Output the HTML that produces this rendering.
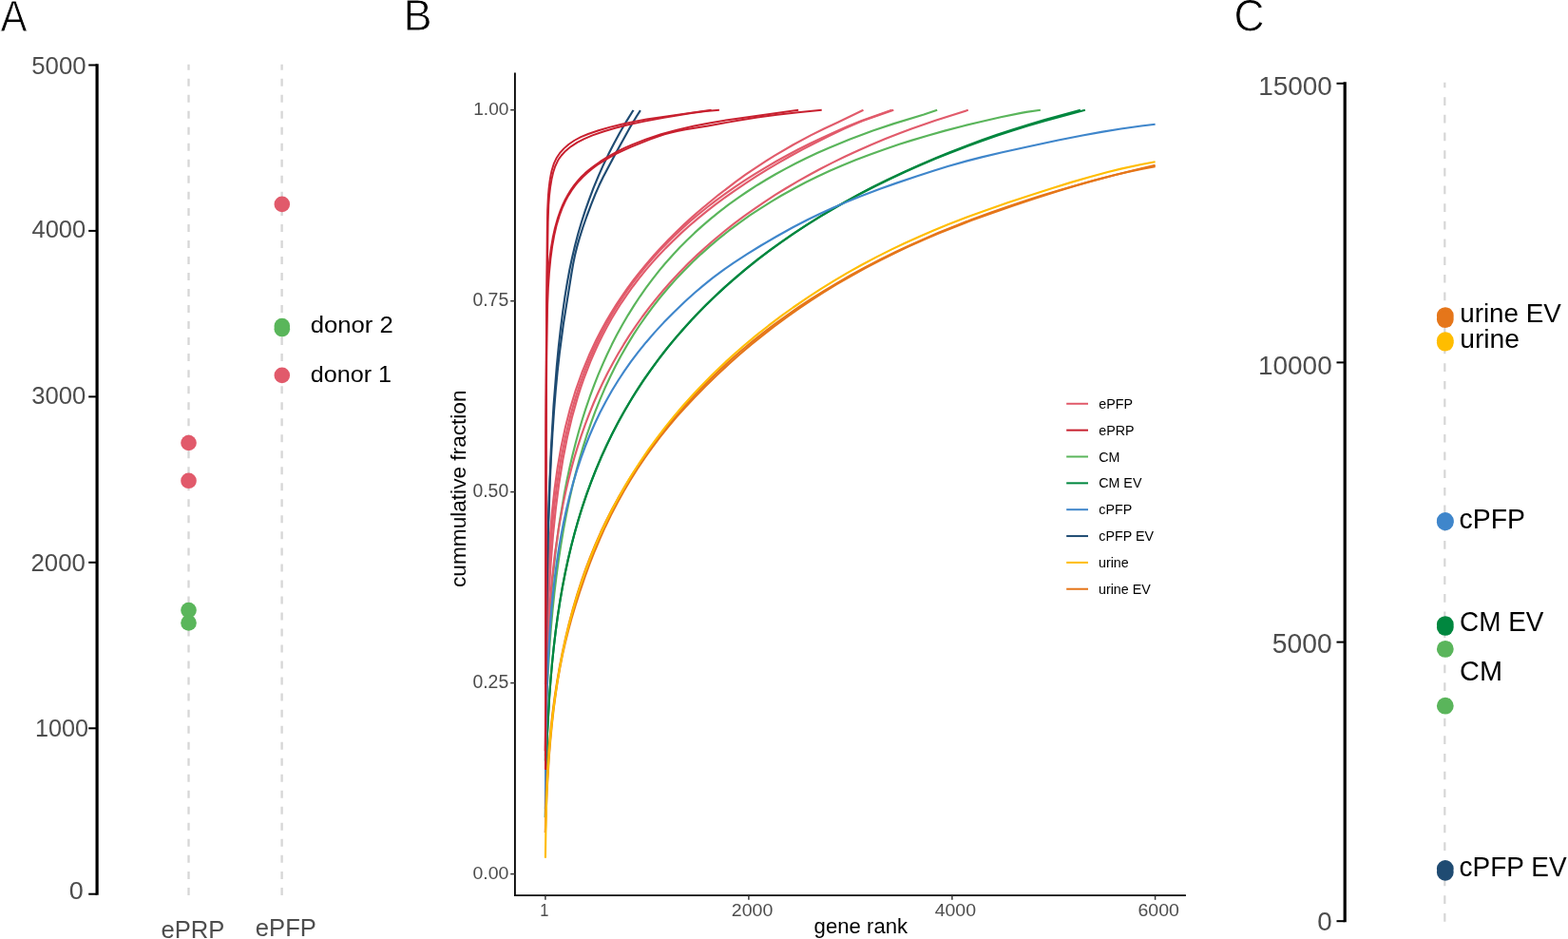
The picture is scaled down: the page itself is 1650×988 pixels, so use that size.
<!DOCTYPE html><html><head><meta charset="utf-8"><title>Figure</title><style>html,body{margin:0;padding:0;background:#fff;overflow:hidden}svg{display:block}text{font-family:"Liberation Sans",Arial,Helvetica,sans-serif}</style></head><body>
<svg width="1650" height="988" viewBox="0 0 1650 988">
<rect width="1650" height="988" fill="#fff"/>
<text stroke="#fff" stroke-width="0.8" transform="translate(0.60,32.60) scale(0.9046,1)" x="-0.09" y="0" font-size="46.51" fill="#000">A</text>
<line x1="198.5" y1="941.9" x2="198.5" y2="67.7" stroke="#D6D6D6" stroke-width="2.3" stroke-dasharray="8 9.024"/>
<line x1="296.6" y1="941.9" x2="296.6" y2="67.7" stroke="#D6D6D6" stroke-width="2.3" stroke-dasharray="8 9.024"/>
<line x1="102.1" y1="67.3" x2="102.1" y2="941.8" stroke="#000" stroke-width="3.2"/>
<line x1="93.2" y1="68.5" x2="102" y2="68.5" stroke="#000" stroke-width="2"/>
<line x1="93.2" y1="242.9" x2="102" y2="242.9" stroke="#000" stroke-width="2"/>
<line x1="93.2" y1="417.4" x2="102" y2="417.4" stroke="#000" stroke-width="2"/>
<line x1="93.2" y1="591.8" x2="102" y2="591.8" stroke="#000" stroke-width="2"/>
<line x1="93.2" y1="766.3" x2="102" y2="766.3" stroke="#000" stroke-width="2"/>
<line x1="93.2" y1="940.7" x2="102" y2="940.7" stroke="#000" stroke-width="2"/>
<text transform="translate(34.20,77.84) scale(0.9829,1)" x="-1.05" y="0" font-size="26.27" fill="#4D4D4D">5000</text>
<text transform="translate(34.10,250.45) scale(1.0078,1)" x="-0.58" y="0" font-size="25.28" fill="#4D4D4D">4000</text>
<text transform="translate(34.10,425.25) scale(0.9981,1)" x="-0.98" y="0" font-size="25.71" fill="#4D4D4D">3000</text>
<text transform="translate(33.80,600.55) scale(1.0038,1)" x="-1.29" y="0" font-size="25.71" fill="#4D4D4D">2000</text>
<text transform="translate(39.00,775.25) scale(0.9793,1)" x="-1.96" y="0" font-size="25.71" fill="#4D4D4D">1000</text>
<text transform="translate(73.90,945.96) scale(1.0794,1)" x="-0.98" y="0" font-size="25.00" fill="#4D4D4D">0</text>
<text transform="translate(170.60,986.90) scale(1.0191,1)" x="-1.07" y="0" font-size="25.15" fill="#4D4D4D">ePRP</text>
<text transform="translate(269.90,985.20) scale(1.0183,1)" x="-1.07" y="0" font-size="25.15" fill="#4D4D4D">ePFP</text>
<text transform="translate(327.80,350.20) scale(1.0510,1)" x="-1.03" y="0" font-size="24.43" fill="#000">donor 2</text>
<text transform="translate(327.80,402.40) scale(1.0606,1)" x="-1.00" y="0" font-size="23.74" fill="#000">donor 1</text>
<circle cx="198.5" cy="466.0" r="8.3" fill="#E15A6B"/>
<circle cx="198.5" cy="505.8" r="8.3" fill="#E15A6B"/>
<circle cx="198.5" cy="642.1" r="8.3" fill="#5AB65B"/>
<circle cx="198.5" cy="655.4" r="8.3" fill="#5AB65B"/>
<circle cx="296.8" cy="214.9" r="8.3" fill="#E15A6B"/>
<circle cx="296.8" cy="394.9" r="8.3" fill="#E15A6B"/>
<circle cx="296.8" cy="343.0" r="8.3" fill="#5AB65B"/>
<circle cx="296.8" cy="346.2" r="8.3" fill="#5AB65B"/>
<text stroke="#fff" stroke-width="0.8" transform="translate(428.30,32.30) scale(0.9756,1)" x="-3.79" y="0" font-size="46.22" fill="#000">B</text>
<g fill="none" stroke-width="2.2" stroke-linejoin="round" stroke-linecap="butt">
<path d="M573.90,801.04 L574.33,754.23 L575.18,715.88 L576.68,677.50 L578.71,643.14 L581.45,609.81 L584.79,578.81 L588.79,549.39 L593.62,520.56 L596.24,507.02 L599.21,493.02 L602.27,479.79 L605.70,466.18 L609.18,453.49 L612.63,441.81 L616.42,429.89 L620.58,417.73 L625.15,405.35 L629.58,394.17 L634.40,382.82 L638.95,372.77 L643.84,362.61 L649.11,352.35 L654.76,342.00 L660.85,331.56 L667.38,321.06 L673.38,312.01 L679.76,302.92 L686.54,293.80 L693.76,284.67 L700.13,277.06 L708.23,267.93 L715.36,260.33 L722.88,252.74 L730.80,245.17 L739.13,237.63 L747.91,230.12 L757.16,222.65 L766.89,215.22 L777.14,207.85 L785.74,201.99 L796.99,194.72 L806.42,188.97 L816.25,183.26 L826.50,177.61 L837.18,172.02 L848.30,166.49 L859.90,161.04 L871.99,155.66 L894.39,146.46 L918.47,137.54 L940.55,130.13 L972.20,120.47 L986.20,115.80" stroke="#5AB55B" stroke-width="2.15"/>
<path d="M573.90,799.96 L574.76,754.31 L576.25,715.06 L578.50,677.55 L580.00,658.43 L581.61,640.84 L583.42,623.67 L585.51,606.20 L587.76,589.64 L590.25,573.23 L592.97,557.13 L595.91,541.49 L599.01,526.48 L602.24,512.24 L605.53,498.90 L609.20,485.20 L613.29,471.15 L617.38,458.22 L621.90,445.05 L626.30,433.13 L631.11,421.05 L636.35,408.81 L642.08,396.43 L647.51,385.49 L653.39,374.46 L659.72,363.35 L666.57,352.15 L672.87,342.50 L679.59,332.80 L686.77,323.05 L694.44,313.27 L702.63,303.46 L711.38,293.62 L719.12,285.41 L728.99,275.55 L737.72,267.33 L746.94,259.12 L756.68,250.91 L766.97,242.73 L777.84,234.58 L789.32,226.48 L798.97,220.04 L811.64,212.06 L822.28,205.74 L836.26,197.95 L848.01,191.80 L860.28,185.74 L873.11,179.79 L886.51,173.95 L900.50,168.23 L915.13,162.63 L930.40,157.16 L946.37,151.80 L958.80,147.86 L976.04,142.70 L994.04,137.66 L1012.85,132.74 L1032.51,127.93 L1053.04,123.28 L1074.49,118.85 L1080.00,117.82 L1094.90,115.80" stroke="#5AB55B" stroke-width="2.15"/>
<path d="M573.90,860.12 L574.54,814.46 L575.93,772.46 L578.07,733.90 L579.46,715.25 L580.97,698.15 L582.67,681.57 L584.65,664.81 L586.77,649.04 L589.15,633.51 L591.75,618.36 L594.56,603.73 L597.54,589.72 L600.95,575.21 L604.50,561.45 L608.13,548.56 L612.20,535.30 L616.74,521.65 L621.29,509.03 L626.31,496.08 L631.87,482.80 L637.31,470.72 L643.25,458.36 L649.75,445.73 L655.93,434.46 L662.62,422.98 L669.85,411.29 L676.52,401.11 L684.88,389.05 L692.59,378.55 L700.83,367.90 L709.65,357.12 L719.08,346.20 L729.16,335.14 L739.94,323.96 L749.49,314.54 L761.68,303.14 L772.48,293.56 L783.91,283.90 L795.99,274.18 L808.77,264.41 L819.51,256.56 L833.64,246.71 L845.53,238.81 L861.15,228.92 L874.30,221.00 L888.04,213.08 L902.41,205.18 L917.45,197.29 L933.16,189.43 L949.60,181.62 L966.79,173.86 L984.77,166.17 L998.79,160.46 L1018.23,152.93 L1033.39,147.36 L1049.06,141.88 L1065.28,136.49 L1082.04,131.21 L1099.38,126.06 L1136.90,115.80" stroke="#00873F" stroke-width="2.15"/>
<path d="M573.90,860.12 L574.54,814.28 L575.93,772.24 L578.07,733.69 L579.46,715.05 L580.97,697.97 L582.77,680.51 L584.77,663.71 L586.92,647.91 L589.32,632.36 L591.95,617.20 L594.79,602.55 L597.80,588.52 L601.25,573.99 L604.85,560.21 L608.91,545.99 L613.06,532.66 L617.71,518.95 L622.36,506.26 L627.50,493.25 L633.19,479.90 L638.74,467.74 L644.82,455.30 L651.47,442.59 L657.79,431.25 L664.63,419.69 L672.03,407.93 L678.84,397.68 L687.39,385.54 L695.28,374.97 L703.71,364.27 L712.72,353.42 L722.36,342.45 L732.67,331.34 L743.69,320.12 L753.46,310.67 L763.79,301.15 L774.72,291.57 L786.27,281.92 L798.49,272.21 L811.41,262.46 L822.28,254.63 L836.56,244.81 L848.58,236.95 L864.38,227.10 L877.67,219.23 L891.57,211.37 L906.11,203.52 L921.31,195.71 L937.20,187.93 L953.83,180.20 L966.79,174.45 L984.77,166.84 L998.79,161.19 L1018.23,153.76 L1033.39,148.26 L1049.06,142.85 L1065.28,137.54 L1082.04,132.33 L1099.38,127.25 L1141.90,115.80" stroke="#00873F" stroke-width="2.15"/>
<path d="M573.90,790.31 L574.11,728.75 L574.43,691.78 L575.08,652.61 L576.04,618.52 L577.32,589.00 L579.03,561.53 L581.07,537.39 L583.63,514.17 L586.82,491.38 L590.56,470.01 L594.96,449.43 L599.99,429.79 L605.91,410.31 L612.41,392.01 L619.78,374.04 L627.50,357.53 L632.39,348.01 L637.74,338.30 L642.90,329.52 L648.48,320.59 L654.50,311.50 L660.17,303.41 L667.14,294.01 L673.70,285.65 L680.72,277.14 L688.23,268.50 L696.28,259.71 L703.62,252.05 L711.40,244.28 L719.64,236.40 L728.38,228.39 L737.65,220.26 L756.10,205.02 L774.67,190.88 L784.65,183.73 L795.13,176.55 L806.13,169.37 L815.32,163.63 L834.81,152.21 L853.14,142.36 L867.03,135.46 L881.60,128.70 L908.50,115.80" stroke="#E15B6B" stroke-width="2.15"/>
<path d="M573.90,790.32 L574.11,739.24 L574.65,691.77 L575.50,653.25 L576.68,620.54 L578.29,590.10 L580.40,561.18 L582.96,534.92 L586.13,509.56 L590.07,484.58 L594.65,461.17 L599.72,439.70 L602.70,428.65 L605.71,418.42 L609.04,408.02 L612.32,398.50 L615.91,388.83 L619.84,379.02 L624.13,369.06 L628.28,360.08 L632.77,350.98 L637.00,342.93 L642.21,333.61 L647.85,324.17 L653.96,314.62 L659.71,306.17 L665.88,297.62 L672.49,288.99 L679.57,280.27 L686.05,272.73 L694.10,263.85 L701.47,256.17 L709.28,248.44 L717.58,240.65 L726.38,232.80 L734.12,226.22 L743.94,218.27 L752.57,211.61 L763.52,203.59 L773.14,196.86 L783.26,190.12 L793.89,183.35 L805.07,176.56 L816.80,169.77 L829.14,162.97 L839.45,157.53 L852.94,150.75 L864.22,145.35 L878.96,138.63 L891.29,133.30 L907.40,126.74 L938.50,115.80" stroke="#E15B6B" stroke-width="2.15"/>
<path d="M573.90,790.30 L574.22,745.86 L574.97,700.18 L576.15,659.46 L577.64,625.03 L579.57,593.03 L582.01,562.48 L584.86,534.89 L588.25,508.71 L592.31,483.46 L596.82,460.58 L601.86,439.30 L607.67,418.66 L610.82,408.73 L614.28,398.71 L621.23,380.66 L625.14,371.52 L629.37,362.29 L633.95,352.99 L638.27,344.78 L643.58,335.31 L648.59,326.96 L653.96,318.54 L659.71,310.05 L665.88,301.49 L672.49,292.86 L679.57,284.14 L686.05,276.61 L692.92,269.02 L700.21,261.37 L707.95,253.66 L716.16,245.89 L724.87,238.04 L734.12,230.14 L743.94,222.16 L752.57,215.46 L763.52,207.35 L773.14,200.54 L785.35,192.30 L796.08,185.37 L807.37,178.39 L819.22,171.36 L831.68,164.28 L844.77,157.16 L858.52,150.00 L872.97,142.82 L888.16,135.64 L900.86,129.95 L907.40,127.15 L940.30,115.80" stroke="#E15B6B" stroke-width="2.15"/>
<path d="M573.90,795.60 L574.22,749.62 L574.97,710.27 L576.25,674.78 L578.18,641.59 L580.70,611.47 L583.90,583.19 L587.81,556.32 L592.43,530.86 L595.17,517.87 L598.06,505.45 L601.04,493.69 L604.40,481.57 L607.81,470.23 L611.59,458.57 L615.80,446.60 L619.98,435.55 L624.59,424.25 L629.06,413.98 L633.93,403.51 L639.23,392.83 L644.99,381.95 L650.45,372.27 L656.33,362.43 L662.66,352.44 L669.48,342.30 L675.73,333.50 L683.55,323.10 L690.72,314.07 L698.37,304.95 L706.51,295.74 L715.19,286.45 L724.43,277.07 L734.28,267.62 L742.97,259.69 L752.14,251.72 L761.80,243.72 L771.99,235.68 L782.73,227.62 L794.06,219.54 L803.55,213.06 L816.00,204.97 L826.45,198.50 L840.14,190.42 L851.62,183.97 L863.60,177.55 L876.10,171.16 L889.14,164.81 L902.73,158.50 L916.92,152.26 L931.71,146.08 L947.15,140.00 L959.16,135.50 L984.35,126.72 L1018.80,115.80" stroke="#E15B6B" stroke-width="2.15"/>
<path d="M573.90,851.03 L574.33,785.53 L575.18,739.50 L576.68,697.33 L578.82,660.39 L580.21,642.60 L581.78,625.78 L583.63,609.08 L585.63,593.58 L587.86,578.49 L590.33,563.90 L593.01,549.90 L596.12,535.46 L599.43,521.74 L603.24,507.65 L607.23,494.40 L611.32,482.09 L615.91,469.52 L620.52,457.99 L625.63,446.26 L631.31,434.33 L637.61,422.22 L643.78,411.29 L650.55,400.22 L657.01,390.40 L664.01,380.46 L671.60,370.39 L679.83,360.19 L688.75,349.86 L698.43,339.37 L708.91,328.70 L720.28,317.80 L730.79,308.30 L740.11,300.35 L749.99,292.43 L760.46,284.61 L771.55,276.87 L785.73,267.60 L800.93,258.25 L817.22,248.72 L834.67,239.02 L850.17,230.99 L863.23,224.68 L876.90,218.48 L891.22,212.38 L906.22,206.34 L925.97,198.85 L942.61,192.88 L964.52,185.40 L982.98,179.45 L997.40,175.06 L1017.41,169.40 L1033.04,165.34 L1054.74,160.20 L1083.31,153.93 L1113.58,147.53 L1139.09,142.47 L1159.00,138.85 L1179.62,135.49 L1200.97,132.50 L1215.61,130.77" stroke="#3F86CB" stroke-width="2.15"/>
<path d="M574.00,720.00 L575.07,632.81 L576.13,576.64 L577.71,522.97 L579.83,473.44 L582.55,426.83 L585.84,385.21 L587.76,365.46 L589.86,346.56 L592.12,328.51 L594.46,312.14 L596.79,297.87 L599.33,284.06 L602.04,271.13 L604.97,258.68 L608.23,246.32 L611.82,234.04 L615.73,221.86 L619.97,209.79 L624.67,197.44 L629.56,185.61 L634.75,173.91 L640.26,162.34 L646.08,150.92 L652.01,140.01 L659.06,127.83 L666.26,116.20 L666.30,115.80" stroke="#1F4B72" stroke-width="2.15"/>
<path d="M574.30,720.00 L575.54,622.59 L576.77,563.33 L578.71,507.01 L579.95,480.92 L581.40,455.68 L582.95,432.92 L584.68,411.43 L586.60,391.21 L588.69,372.26 L592.81,341.45 L601.29,288.24 L603.15,277.64 L605.07,268.33 L607.13,259.90 L609.72,250.74 L613.36,239.27 L617.44,227.50 L622.09,215.05 L626.59,203.91 L630.59,194.83 L634.70,186.25 L647.66,161.72 L662.69,134.49 L669.65,122.72 L673.90,116.10" stroke="#1F4B72" stroke-width="2.15"/>
<path d="M573.95,809.60 L574.61,421.34 L575.05,328.39 L575.76,244.79 L576.12,221.85 L576.89,205.99 L577.57,198.32 L578.44,191.19 L579.49,184.62 L580.65,179.21 L582.74,172.44 L585.45,166.58 L588.99,161.22 L593.28,156.37 L598.60,151.72 L604.48,147.74 L611.27,144.16 L618.90,140.98 L629.86,137.24 L641.45,133.86 L654.18,130.69 L667.53,127.88 L680.41,125.56 L694.42,123.34 L748.60,115.80" stroke="#C8202F" stroke-width="1.95"/>
<path d="M573.95,809.60 L574.31,707.34 L574.62,442.23 L575.07,361.94 L575.81,289.38 L576.66,233.88 L577.29,215.75 L578.04,205.87 L579.07,197.09 L580.43,188.86 L582.03,181.79 L584.24,174.96 L587.02,169.08 L588.74,166.34 L590.66,163.74 L595.05,158.96 L597.91,156.43 L600.95,154.07 L607.43,149.87 L614.80,146.07 L623.49,142.45 L635.50,138.29 L648.16,134.54 L661.99,131.07 L677.00,127.84 L698.60,123.83 L727.39,119.02 L742.66,117.00 L756.90,115.80" stroke="#C8202F" stroke-width="1.95"/>
<path d="M574.00,809.60 L574.50,458.24 L575.01,348.75 L575.44,317.38 L576.03,301.69 L576.95,287.12 L578.22,273.69 L579.80,261.40 L581.68,250.33 L583.95,239.97 L586.62,230.39 L589.66,221.60 L592.08,215.72 L594.80,209.99 L597.83,204.44 L600.87,199.56 L604.21,194.86 L607.85,190.34 L611.79,186.03 L615.58,182.36 L620.02,178.52 L625.60,174.22 L631.36,170.19 L637.78,166.10 L644.37,162.28 L651.10,158.72 L657.95,155.41 L665.45,152.09 L680.14,146.37 L695.63,141.27 L712.44,136.63 L730.60,132.48 L747.77,129.18 L767.37,125.98 L840.20,115.80" stroke="#C8202F" stroke-width="1.95"/>
<path d="M574.00,809.60 L574.29,726.63 L574.56,467.69 L575.22,379.21 L575.71,340.47 L576.16,320.23 L576.87,302.95 L577.91,287.41 L579.38,272.41 L581.15,259.18 L583.28,247.23 L585.76,236.65 L588.69,226.90 L592.05,218.01 L595.00,211.57 L598.06,205.86 L601.48,200.37 L604.94,195.58 L608.73,191.00 L613.27,186.22 L618.14,181.71 L623.27,177.49 L628.61,173.56 L634.62,169.60 L641.33,165.64 L648.21,161.98 L655.76,158.32 L663.99,154.67 L684.02,146.62 L691.89,143.80 L699.27,141.42 L706.15,139.50 L712.54,138.01 L721.34,136.30 L745.01,132.42 L776.83,126.71 L796.92,123.54 L817.68,120.73 L839.68,118.22 L864.70,115.80" stroke="#C8202F" stroke-width="1.95"/>
<path d="M573.90,876.00 L574.22,853.97 L574.76,835.86 L575.50,818.99 L576.57,801.26 L577.96,783.40 L579.57,766.67 L581.42,750.41 L583.63,733.83 L586.04,718.04 L588.87,701.73 L591.93,686.05 L595.36,670.31 L598.85,655.85 L602.90,640.60 L607.23,625.83 L611.75,611.72 L616.40,598.41 L621.06,586.05 L626.24,573.35 L631.98,560.32 L637.61,548.45 L643.78,536.32 L650.55,523.89 L657.01,512.77 L664.01,501.41 L671.60,489.79 L679.83,477.90 L688.75,465.73 L697.00,455.06 L705.83,444.17 L715.30,433.04 L725.44,421.68 L736.32,410.11 L745.97,400.32 L756.20,390.41 L767.04,380.40 L778.52,370.29 L790.68,360.11 L803.57,349.86 L814.42,341.62 L828.72,331.28 L840.76,322.98 L853.38,314.67 L866.59,306.36 L880.42,298.06 L894.91,289.76 L910.08,281.49 L925.97,273.26 L942.61,265.07 L955.60,258.96 L973.65,250.87 L987.73,244.86 L1007.29,236.91 L1022.56,231.01 L1043.77,223.23 L1060.33,217.45 L1077.47,211.74 L1095.21,206.10 L1113.58,200.52 L1132.60,195.02 L1152.29,189.60 L1172.67,184.26 L1193.77,179.01 L1215.61,173.86" stroke="#E5761A" stroke-width="2.15"/>
<path d="M573.90,876.01 L575.50,833.22 L577.75,796.47 L579.25,778.14 L580.91,761.04 L582.76,744.86 L584.83,729.29 L586.92,715.65 L589.22,702.47 L591.72,689.89 L594.62,676.92 L598.00,663.43 L601.59,650.34 L605.72,636.46 L610.04,622.89 L615.43,607.11 L620.52,593.23 L625.63,580.21 L631.31,566.74 L636.87,554.43 L642.98,541.82 L649.67,528.93 L656.05,517.41 L662.97,505.69 L670.48,493.75 L678.61,481.62 L686.13,471.07 L694.18,460.39 L702.82,449.58 L712.07,438.65 L720.28,429.44 L730.79,418.22 L742.04,406.77 L754.11,395.01 L767.04,382.97 L778.52,372.78 L790.68,362.46 L803.57,352.04 L814.42,343.64 L828.72,333.08 L840.76,324.61 L853.38,316.12 L866.59,307.63 L880.42,299.16 L894.91,290.72 L910.08,282.32 L925.97,273.99 L942.61,265.74 L955.60,259.62 L973.65,251.55 L987.73,245.58 L1002.32,239.67 L1022.56,231.86 L1043.77,224.12 L1065.97,216.40 L1089.23,208.68 L1113.58,200.93 L1132.60,195.16 L1152.29,189.55 L1172.67,184.26 L1186.66,180.96 L1200.97,177.90 L1215.61,175.11" stroke="#E5761A" stroke-width="2.15"/>
<path d="M573.90,902.65 L574.54,859.62 L575.18,839.32 L576.04,820.23 L577.11,802.15 L578.50,783.63 L580.10,766.28 L581.88,750.20 L583.98,733.93 L586.33,718.15 L589.05,702.20 L591.93,687.24 L595.11,672.47 L598.56,658.05 L602.24,644.09 L606.47,629.49 L610.89,615.53 L615.91,601.00 L621.06,587.28 L626.24,574.50 L631.98,561.32 L638.35,547.71 L644.59,535.26 L651.44,522.46 L658.95,509.32 L666.12,497.54 L673.88,485.49 L682.31,473.17 L691.44,460.59 L699.87,449.59 L708.91,438.39 L718.60,427.01 L728.99,415.44 L738.21,405.66 L749.99,393.76 L760.46,383.71 L771.55,373.54 L783.30,363.28 L795.75,352.92 L808.93,342.47 L822.90,331.96 L834.67,323.50 L850.17,312.89 L863.23,304.39 L876.90,295.90 L891.22,287.43 L906.22,279.01 L921.93,270.65 L938.38,262.38 L951.22,256.25 L969.06,248.19 L982.98,242.23 L997.40,236.36 L1017.41,228.62 L1038.38,220.95 L1060.33,213.31 L1083.31,205.65 L1107.39,197.94 L1126.19,192.14 L1145.65,186.47 L1165.80,181.05 L1179.62,177.65 L1200.97,172.98 L1215.61,170.22" stroke="#FFBD00" stroke-width="2.15"/>
</g>
<line x1="541.9" y1="76.4" x2="541.9" y2="942.9" stroke="#000" stroke-width="1.8"/>
<line x1="541" y1="942.1" x2="1247.9" y2="942.1" stroke="#000" stroke-width="1.8"/>
<line x1="537.2" y1="115.7" x2="541.9" y2="115.7" stroke="#333" stroke-width="1.5"/>
<line x1="537.2" y1="316.7" x2="541.9" y2="316.7" stroke="#333" stroke-width="1.5"/>
<line x1="537.2" y1="517.6" x2="541.9" y2="517.6" stroke="#333" stroke-width="1.5"/>
<line x1="537.2" y1="718.6" x2="541.9" y2="718.6" stroke="#333" stroke-width="1.5"/>
<line x1="537.2" y1="919.6" x2="541.9" y2="919.6" stroke="#333" stroke-width="1.5"/>
<line x1="573.9" y1="942.1" x2="573.9" y2="946.8" stroke="#333" stroke-width="1.5"/>
<line x1="787.9" y1="942.1" x2="787.9" y2="946.8" stroke="#333" stroke-width="1.5"/>
<line x1="1001.9" y1="942.1" x2="1001.9" y2="946.8" stroke="#333" stroke-width="1.5"/>
<line x1="1215.6" y1="942.1" x2="1215.6" y2="946.8" stroke="#333" stroke-width="1.5"/>
<text transform="translate(499.70,121.12) scale(1.0071,1)" x="-1.44" y="0" font-size="18.93" fill="#4D4D4D">1.00</text>
<text transform="translate(498.20,321.91) scale(1.0030,1)" x="-0.76" y="0" font-size="19.35" fill="#4D4D4D">0.75</text>
<text transform="translate(498.20,522.81) scale(1.0014,1)" x="-0.76" y="0" font-size="19.35" fill="#4D4D4D">0.50</text>
<text transform="translate(498.20,723.81) scale(1.0030,1)" x="-0.76" y="0" font-size="19.35" fill="#4D4D4D">0.25</text>
<text transform="translate(498.20,924.71) scale(1.0143,1)" x="-0.75" y="0" font-size="19.21" fill="#4D4D4D">0.00</text>
<text transform="translate(569.50,963.60) scale(0.8992,1)" x="-1.40" y="0" font-size="18.31" fill="#4D4D4D">1</text>
<text transform="translate(770.80,963.51) scale(1.0191,1)" x="-0.97" y="0" font-size="19.21" fill="#4D4D4D">2000</text>
<text transform="translate(984.10,963.51) scale(1.0159,1)" x="-0.44" y="0" font-size="19.21" fill="#4D4D4D">4000</text>
<text transform="translate(1198.50,963.51) scale(1.0169,1)" x="-0.98" y="0" font-size="19.21" fill="#4D4D4D">6000</text>
<text transform="translate(857.50,981.80) scale(1.0167,1)" x="-0.92" y="0" font-size="21.80" fill="#000">gene rank</text>
<text transform="translate(489.50,617.00) rotate(-90) scale(1.0071,1)" x="-0.96" y="0" font-size="22.49" fill="#000">cummulative fraction</text>
<line x1="1122.2" y1="424.80" x2="1145" y2="424.80" stroke="#E15B6B" stroke-width="2"/>
<text x="1156.29" y="429.90" font-size="14.3" fill="#000">ePFP</text>
<line x1="1122.2" y1="452.65" x2="1145" y2="452.65" stroke="#C8202F" stroke-width="2"/>
<text x="1156.29" y="457.75" font-size="14.3" fill="#000">ePRP</text>
<line x1="1122.2" y1="480.50" x2="1145" y2="480.50" stroke="#5AB55B" stroke-width="2"/>
<text x="1156.17" y="485.60" font-size="14.3" fill="#000">CM</text>
<line x1="1122.2" y1="508.35" x2="1145" y2="508.35" stroke="#00873F" stroke-width="2"/>
<text x="1156.17" y="513.45" font-size="14.3" fill="#000">CM EV</text>
<line x1="1122.2" y1="536.20" x2="1145" y2="536.20" stroke="#3F86CB" stroke-width="2"/>
<text x="1156.29" y="541.30" font-size="14.3" fill="#000">cPFP</text>
<line x1="1122.2" y1="564.05" x2="1145" y2="564.05" stroke="#1F4B72" stroke-width="2"/>
<text x="1156.29" y="569.15" font-size="14.3" fill="#000">cPFP EV</text>
<line x1="1122.2" y1="591.90" x2="1145" y2="591.90" stroke="#FFBD00" stroke-width="2"/>
<text x="1155.97" y="597.00" font-size="14.3" fill="#000">urine</text>
<line x1="1122.2" y1="619.75" x2="1145" y2="619.75" stroke="#E5761A" stroke-width="2"/>
<text x="1155.97" y="624.85" font-size="14.3" fill="#000">urine EV</text>
<text stroke="#fff" stroke-width="0.8" transform="translate(1300.80,32.74) scale(0.9350,1)" x="-2.41" y="0" font-size="47.46" fill="#000">C</text>
<line x1="1520.3" y1="969.7" x2="1520.3" y2="86.8" stroke="#D6D6D6" stroke-width="2.2" stroke-dasharray="8.7 9.97"/>
<line x1="1415.2" y1="86.3" x2="1415.2" y2="970.2" stroke="#000" stroke-width="3.2"/>
<line x1="1406.5" y1="87.8" x2="1415" y2="87.8" stroke="#000" stroke-width="2"/>
<line x1="1406.5" y1="381.4" x2="1415" y2="381.4" stroke="#000" stroke-width="2"/>
<line x1="1406.5" y1="675.6" x2="1415" y2="675.6" stroke="#000" stroke-width="2"/>
<line x1="1406.5" y1="969.2" x2="1415" y2="969.2" stroke="#000" stroke-width="2"/>
<text transform="translate(1326.30,99.63) scale(0.9994,1)" x="-2.13" y="0" font-size="27.97" fill="#4D4D4D">15000</text>
<text transform="translate(1326.10,393.82) scale(0.9894,1)" x="-2.15" y="0" font-size="28.25" fill="#4D4D4D">10000</text>
<text transform="translate(1340.00,687.42) scale(0.9851,1)" x="-1.15" y="0" font-size="28.67" fill="#4D4D4D">5000</text>
<text transform="translate(1387.20,978.52) scale(0.9849,1)" x="-1.10" y="0" font-size="28.25" fill="#4D4D4D">0</text>
<circle cx="1520.8" cy="332.1" r="8.9" fill="#E5761A"/>
<circle cx="1520.8" cy="336.1" r="8.9" fill="#E5761A"/>
<circle cx="1520.8" cy="358.2" r="8.9" fill="#FFBD00"/>
<circle cx="1520.8" cy="360.6" r="8.9" fill="#FFBD00"/>
<circle cx="1520.8" cy="548.0" r="8.9" fill="#3F86CB"/>
<circle cx="1520.8" cy="549.3" r="8.9" fill="#3F86CB"/>
<circle cx="1520.8" cy="657.1" r="8.9" fill="#00873F"/>
<circle cx="1520.8" cy="659.9" r="8.9" fill="#00873F"/>
<circle cx="1520.8" cy="682.9" r="8.9" fill="#5AB55B"/>
<circle cx="1520.8" cy="742.7" r="8.9" fill="#5AB55B"/>
<circle cx="1520.8" cy="914.0" r="8.9" fill="#1F4B72"/>
<circle cx="1520.8" cy="917.8" r="8.9" fill="#1F4B72"/>
<text transform="translate(1538.00,338.90) scale(1.0174,1)" x="-1.77" y="0" font-size="27.33" fill="#000">urine EV</text>
<text transform="translate(1538.00,366.20) scale(1.0334,1)" x="-1.77" y="0" font-size="27.33" fill="#000">urine</text>
<text transform="translate(1536.80,555.90) scale(0.9929,1)" x="-1.22" y="0" font-size="28.63" fill="#000">cPFP</text>
<text transform="translate(1537.50,664.00) scale(0.9364,1)" x="-1.51" y="0" font-size="29.79" fill="#000">CM EV</text>
<text transform="translate(1537.50,716.20) scale(0.9562,1)" x="-1.53" y="0" font-size="30.22" fill="#000">CM</text>
<text transform="translate(1536.80,921.80) scale(0.9530,1)" x="-1.25" y="0" font-size="29.36" fill="#000">cPFP EV</text>
</svg></body></html>
